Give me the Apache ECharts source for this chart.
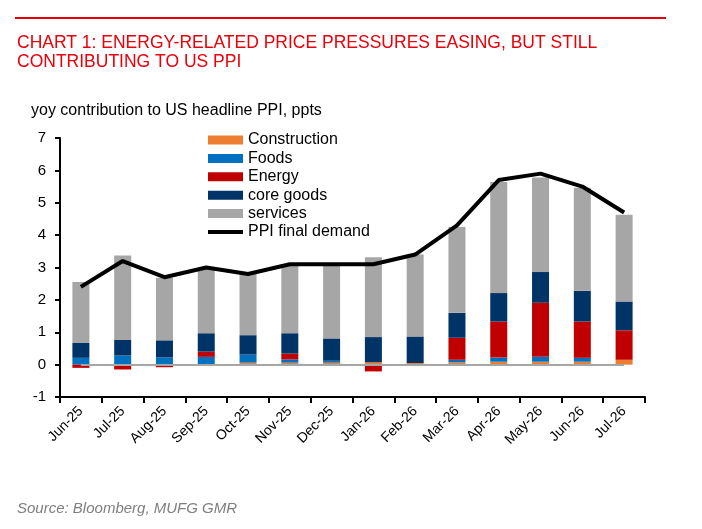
<!DOCTYPE html>
<html>
<head>
<meta charset="utf-8">
<script src="https://cdn.jsdelivr.net/npm/echarts@6/dist/echarts.min.js"></script>
<style>
  html, body { margin: 0; padding: 0; background: #fff; }
  #chart { width: 702px; height: 529px; }
</style>
</head>
<body>
<div id="chart"></div>
<script>
// months
const months = ['Jun-25', 'Jul-25', 'Aug-25', 'Sep-25', 'Oct-25', 'Nov-25', 'Dec-25',
  'Jan-26', 'Feb-26', 'Mar-26', 'Apr-26', 'May-26', 'Jun-26', 'Jul-26'];

// contributions, ppts
const construction = [0, 0, 0, 0, 0.06, 0.06, 0.06, 0.07, 0.05, 0.07, 0.09, 0.09, 0.09, 0.15];
const foods = [0.21, 0.28, 0.22, 0.24, 0.25, 0.10, 0.06, 0, 0, 0.08, 0.13, 0.15, 0.12, 0];
const energy = [-0.10, -0.15, -0.08, 0.16, 0, 0.18, 0, -0.21, -0.04, 0.68, 1.11, 1.67, 1.12, 0.91];
const coreGoods = [0.46, 0.48, 0.53, 0.57, 0.60, 0.63, 0.69, 0.78, 0.82, 0.77, 0.88, 0.95, 0.95, 0.89];
const services = [1.88, 2.61, 1.93, 1.99, 1.89, 2.13, 2.25, 2.47, 2.53, 2.65, 3.43, 2.92, 3.18, 2.68];
const ppiFinal = [2.4, 3.2, 2.7, 3.0, 2.8, 3.1, 3.1, 3.1, 3.4, 4.3, 5.7, 5.9, 5.5, 4.7];

const chart = echarts.init(document.getElementById('chart'));

function bar(name, data, color) {
  return {
    type: 'bar',
    name: name,
    stack: 'ppi',
    data: data,
    barWidth: 17,
    itemStyle: { color: color }
  };
}

const servicesSeries = bar('services', services, '#a6a6a6');
servicesSeries.markLine = {
  silent: true,
  symbol: 'none',
  label: { show: false },
  lineStyle: { color: '#a6a6a6', width: 2, type: 'solid' },
  data: [[{ coord: [months[0], 0] }, { coord: [months[months.length - 1], 0] }]]
};

chart.setOption({
  animation: false,
  textStyle: { fontFamily: 'Liberation Sans, Arial, sans-serif' },
  title: [
    {
      text: 'CHART 1: ENERGY-RELATED PRICE PRESSURES EASING, BUT STILL\nCONTRIBUTING TO US PPI',
      left: 12,
      top: 29,
      textStyle: {
        color: '#e8000b',
        fontSize: 17.5,
        fontWeight: 'normal',
        lineHeight: 19,
        fontFamily: 'Liberation Sans Narrow, Arial Narrow, Liberation Sans, sans-serif'
      }
    },
    {
      text: 'yoy contribution to US headline PPI, ppts',
      left: 26,
      top: 98,
      textStyle: { color: '#000', fontSize: 16, fontWeight: 'normal' }
    },
    {
      text: 'Source: Bloomberg, MUFG GMR',
      left: 12,
      top: 496,
      textStyle: { color: '#7f7f7f', fontSize: 15, fontWeight: 'normal', fontStyle: 'italic' }
    }
  ],
  graphic: [
    {
      type: 'line',
      shape: { x1: 15, y1: 18, x2: 666, y2: 18 },
      style: { stroke: '#e8000b', lineWidth: 2 }
    }
  ],
  legend: {
    orient: 'vertical',
    left: 203,
    top: 127,
    itemWidth: 35,
    itemHeight: 9,
    itemGap: 2.4,
    icon: 'rect',
    textStyle: { color: '#000', fontSize: 16, lineHeight: 16 },
    data: ['Construction', 'Foods', 'Energy', 'core goods', 'services',
      { name: 'PPI final demand', icon: 'path://M0,0 L35,0 L35,4 L0,4 Z' }]
  },
  grid: { left: 60, right: 57, top: 138, bottom: 132 },
  xAxis: {
    type: 'category',
    data: months,
    axisLine: { onZero: false, lineStyle: { color: '#000', width: 2 } },
    axisTick: { show: true, length: 6, lineStyle: { color: '#000', width: 2 } },
    axisLabel: { rotate: 45, color: '#000', fontSize: 14, margin: 12, interval: 0 }
  },
  yAxis: {
    type: 'value',
    min: -1,
    max: 7,
    interval: 1,
    axisLine: { show: true, lineStyle: { color: '#000', width: 2 } },
    axisTick: { show: true, length: 5, lineStyle: { color: '#000', width: 2 } },
    axisLabel: { color: '#000', fontSize: 15, margin: 14 },
    splitLine: { show: false }
  },
  series: [
    bar('Construction', construction, '#ed7d31'),
    bar('Foods', foods, '#0070c0'),
    bar('Energy', energy, '#c00000'),
    bar('core goods', coreGoods, '#003366'),
    servicesSeries,
    {
      type: 'line',
      name: 'PPI final demand',
      data: ppiFinal,
      symbol: 'none',
      z: 5,
      lineStyle: { color: '#000', width: 4 },
      itemStyle: { color: '#000' }
    }
  ]
});
</script>
</body>
</html>
